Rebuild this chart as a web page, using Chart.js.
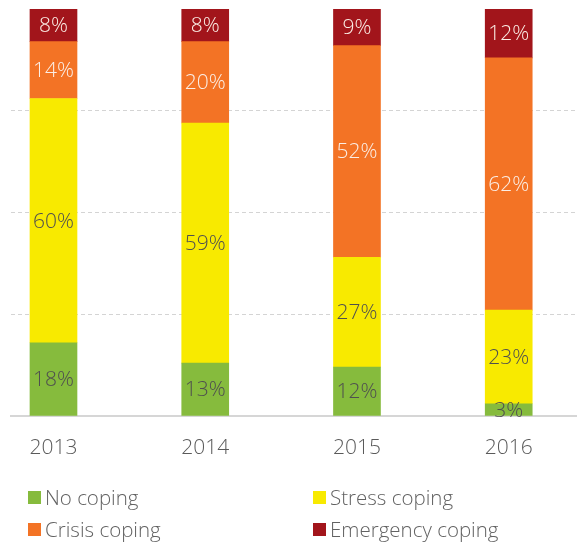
<!DOCTYPE html>
<html>
<head>
<meta charset="utf-8">
<script src="https://cdn.jsdelivr.net/npm/chart.js@4"></script>
<style>
  html, body { margin: 0; padding: 0; background: #fff; }
  #wrap { position: relative; width: 577px; height: 542px; }
  #legend { position: absolute; left: 0; top: 483px; width: 577px; font-family: "Open Sans", sans-serif; font-weight: 300; font-size: 20.5px; color: #626262; }
  .item { position: absolute; display: flex; align-items: center; white-space: nowrap; }
  .box { width: 13px; height: 13px; margin-right: 4px; }
</style>
</head>
<body>
<div id="wrap">
  <canvas id="chart" width="577" height="542"></canvas>
  <div id="legend"></div>
</div>
<script>
const years = ["2013", "2014", "2015", "2016"];
const noCoping = [18, 13, 12, 3];
const stressCoping = [60, 59, 27, 23];
const crisisCoping = [14, 20, 52, 62];
const emergencyCoping = [8, 8, 9, 12];
const yTicks = [0, 25, 50, 75, 100];

const series = [
  { label: "No coping", values: noCoping, color: "#86bb3d", text: "#4f4f4f" },
  { label: "Stress coping", values: stressCoping, color: "#f8ea00", text: "#4f4f4f" },
  { label: "Crisis coping", values: crisisCoping, color: "#f37325", text: "#fbeee6" },
  { label: "Emergency coping", values: emergencyCoping, color: "#a2151b", text: "#fbeee6" }
];

const FONT = "'Open Sans', sans-serif";

// étiquettes au centre de chaque segment
const segmentLabels = {
  id: "segmentLabels",
  afterDatasetsDraw(chart) {
    const ctx = chart.ctx;
    ctx.save();
    ctx.font = "300 21px " + FONT;
    ctx.textAlign = "center";
    ctx.textBaseline = "middle";
    chart.data.datasets.forEach((ds, i) => {
      const meta = chart.getDatasetMeta(i);
      meta.data.forEach((bar, j) => {
        const p = bar.getProps(["x", "y", "base"], true);
        ctx.fillStyle = series[i].text;
        ctx.fillText(ds.data[j].y + "%", p.x, (p.y + p.base) / 2 + 1);
      });
    });
    ctx.restore();
  }
};

new Chart(document.getElementById("chart"), {
  type: "bar",
  data: {
    datasets: series.map(s => ({
      label: s.label,
      data: s.values.map((v, i) => ({ x: i, y: v })),
      backgroundColor: s.color,
      borderWidth: 0,
      barThickness: 47
    }))
  },
  options: {
    responsive: false,
    animation: false,
    layout: { padding: { left: 11, top: 9, right: 0, bottom: 86 } },
    plugins: { legend: { display: false }, tooltip: { enabled: false } },
    scales: {
      x: {
        type: "linear",
        stacked: true,
        offset: false,
        bounds: "data",
        min: -0.28,
        max: 3.45,
        afterBuildTicks: scale => { scale.ticks = years.map((_, i) => ({ value: i })); },
        afterFit: scale => { scale.height = 40; },
        grid: { display: false, drawTicks: false },
        border: { display: true, color: "#d6d6d6", width: 2 },
        ticks: {
          callback: v => years[v],
          color: "#5a5a5a",
          font: { family: FONT, size: 21, weight: "300" },
          padding: 19,
          maxRotation: 0
        }
      },
      y: {
        stacked: true,
        min: 0,
        max: 100,
        afterBuildTicks: scale => { scale.ticks = yTicks.map(v => ({ value: v })); },
        ticks: { display: false },
        grid: {
          drawTicks: false,
          color: c => (c.tick.value === 100 || c.tick.value === 0) ? "rgba(0,0,0,0)" : "#d4d4d4",
          lineWidth: 1
        },
        border: { display: false, dash: [4, 3] }
      }
    }
  },
  plugins: [segmentLabels]
});

// légende HTML en deux colonnes
const legend = document.getElementById("legend");
const legendPos = [[28, 0], [313, 0], [28, 32], [313, 32]];
series.forEach((s, i) => {
  const item = document.createElement("div");
  item.className = "item";
  item.style.left = legendPos[i][0] + "px";
  item.style.top = legendPos[i][1] + "px";
  item.innerHTML = '<span class="box" style="background:' + s.color + '"></span>' + s.label;
  legend.appendChild(item);
});
</script>
</body>
</html>
